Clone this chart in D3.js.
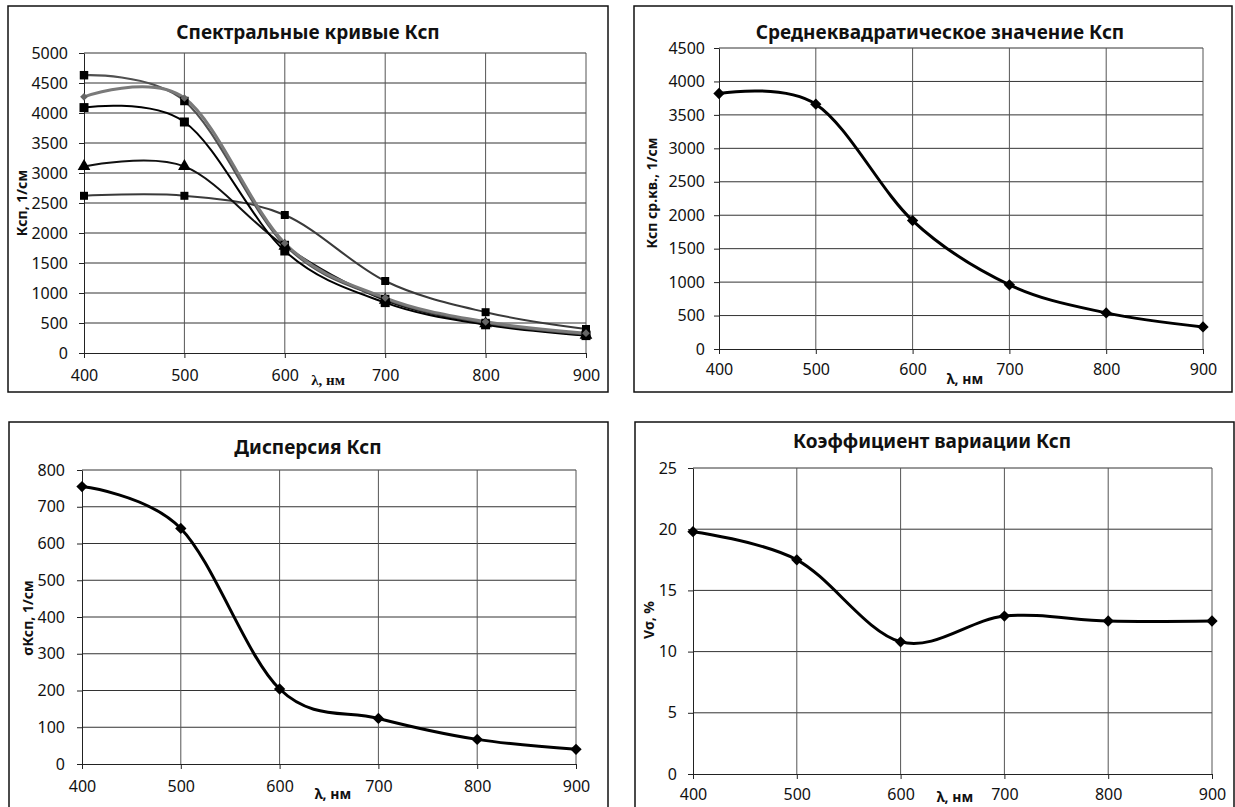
<!DOCTYPE html>
<html>
<head>
<meta charset="utf-8">
<script src="https://cdn.jsdelivr.net/npm/d3@7"></script>
<style>
  body { margin: 0; background: #fff; }
  text { font-family: "Noto Sans", "Open Sans", sans-serif; fill: #111; }
</style>
</head>
<body>
<svg id="chart" width="1235" height="807"></svg>
<script>
// values
var wavelengths = [400, 500, 600, 700, 800, 900];

var kspDiamond     = [4270, 4250, 1830, 920, 520, 330];
var kspSquareTop   = [4630, 4200, 1800, 900, 500, 310];
var kspSquareBlack = [4090, 3850, 1700, 840, 470, 290];
var kspTriangle    = [3110, 3110, 1780, 880, 490, 300];
var kspSquareLow   = [2620, 2620, 2300, 1200, 680, 400];

var kspRms  = [3820, 3660, 1920, 960, 540, 330];
var kspDisp = [755, 641, 204, 124, 67, 40];
var kspVar  = [19.8, 17.5, 10.8, 12.9, 12.5, 12.5];

var ticksKsp  = d3.range(0, 5001, 500);
var ticksRms  = d3.range(0, 4501, 500);
var ticksDisp = d3.range(0, 801, 100);
var ticksVar  = d3.range(0, 26, 5);

var svg = d3.select("#chart");

var line = function(x, y) {
  return d3.line()
    .x(function(d, i) { return x(wavelengths[i]); })
    .y(function(d) { return y(d); })
    .curve(d3.curveCardinal.tension(0));
};

function drawPanel(p) {
  var g = svg.append("g");

  g.append("rect")
    .attr("x", p.box[0]).attr("y", p.box[1])
    .attr("width", p.box[2]).attr("height", p.box[3])
    .attr("fill", "#fff").attr("stroke", "#111").attr("stroke-width", 1.5);

  var x = d3.scaleLinear().domain([400, 900]).range([p.left, p.right]);
  var y = d3.scaleLinear().domain([0, p.yTicks[p.yTicks.length - 1]]).range([p.bottom, p.top]);

  // grid
  g.append("g").selectAll("line")
    .data(p.yTicks.slice(1))
    .enter().append("line")
      .attr("x1", x(400)).attr("x2", x(900))
      .attr("y1", function(d) { return y(d); })
      .attr("y2", function(d) { return y(d); })
      .attr("stroke", "#333").attr("stroke-width", 1);

  g.append("g").selectAll("line")
    .data(wavelengths.slice(1))
    .enter().append("line")
      .attr("x1", function(d) { return x(d); })
      .attr("x2", function(d) { return x(d); })
      .attr("y1", y.range()[0]).attr("y2", y.range()[1])
      .attr("stroke", "#555").attr("stroke-width", 1);

  var ya = g.append("g")
      .attr("transform", "translate(" + x(400) + ",0)")
      .call(d3.axisLeft(y).tickValues(p.yTicks).tickSize(5).tickSizeOuter(0)
        .tickPadding(p.yPad).tickFormat(d3.format("d")));
  var xa = g.append("g")
      .attr("transform", "translate(0," + y(0) + ")")
      .call(d3.axisBottom(x).tickValues(wavelengths).tickSize(5).tickSizeOuter(0)
        .tickPadding(p.xPad).tickFormat(d3.format("d")));

  [ya, xa].forEach(function(a) {
    a.select(".domain").attr("stroke", "#222");
    a.selectAll(".tick line").attr("stroke", "#222");
    a.selectAll(".tick text")
      .attr("fill", "#222")
      .style("font-size", "16px")
      .style("font-family", "'Noto Sans', sans-serif");
  });

  g.append("text")
    .attr("x", p.title[0]).attr("y", p.title[1])
    .attr("text-anchor", "middle")
    .style("font-size", "19px").style("font-weight", "bold")
    .text(p.titleText);

  g.append("text")
    .attr("transform", "translate(" + p.yLabel[0] + "," + p.yLabel[1] + ") rotate(-90)")
    .attr("text-anchor", "middle")
    .style("font-size", "14px").style("font-weight", "bold")
    .text(p.yLabelText);

  g.append("text")
    .attr("x", p.xLabel[0]).attr("y", p.xLabel[1])
    .attr("text-anchor", "middle")
    .style("font-size", p.xLabelSerif ? "15px" : "14px")
    .style("font-weight", "bold")
    .style("font-family", p.xLabelSerif ? "'Liberation Serif', serif" : "'Noto Sans', sans-serif")
    .text("λ, нм");

  p.series.forEach(function(s) {
    g.append("path")
      .datum(s.values)
      .attr("d", line(x, y))
      .attr("fill", "none")
      .attr("stroke", s.color)
      .attr("stroke-width", s.width);
  });

  p.series.forEach(function(s) {
    g.append("g").selectAll("path")
      .data(s.values)
      .enter().append("path")
        .attr("transform", function(d, i) {
          return "translate(" + x(wavelengths[i]) + "," + y(d) + ")" + (s.diamond ? " rotate(45)" : "");
        })
        .attr("d", d3.symbol().type(s.symbol).size(s.size))
        .attr("fill", s.markColor || "#000");
  });
}

drawPanel({
  box: [8, 6, 600, 386],
  left: 84, right: 586, bottom: 353, top: 53,
  yTicks: ticksKsp, yPad: 11, xPad: 12,
  title: [308, 39], titleText: "Спектральные кривые Ксп",
  yLabel: [27, 203], yLabelText: "Ксп, 1/см",
  xLabel: [328, 385], xLabelSerif: true,
  series: [
    { values: kspSquareLow, color: "#3a3a3a", width: 2, symbol: d3.symbolSquare, size: 64 },
    { values: kspTriangle, color: "#111", width: 2, symbol: d3.symbolTriangle, size: 70 },
    { values: kspSquareBlack, color: "#000", width: 2, symbol: d3.symbolSquare, size: 81 },
    { values: kspSquareTop, color: "#505050", width: 2.2, symbol: d3.symbolSquare, size: 72 },
    { values: kspDiamond, color: "#7a7a7a", width: 3, symbol: d3.symbolSquare, diamond: true, size: 30, markColor: "#666" }
  ]
});

drawPanel({
  box: [634, 6, 598, 386],
  left: 719, right: 1203, bottom: 349, top: 48,
  yTicks: ticksRms, yPad: 9, xPad: 10,
  title: [940, 39], titleText: "Среднеквадратическое значение Ксп",
  yLabel: [657, 193], yLabelText: "Ксп ср.кв., 1/см",
  xLabel: [965, 384],
  series: [
    { values: kspRms, color: "#000", width: 3, symbol: d3.symbolSquare, diamond: true, size: 64 }
  ]
});

drawPanel({
  box: [9, 422, 599, 420],
  left: 82, right: 576, bottom: 764, top: 470,
  yTicks: ticksDisp, yPad: 12, xPad: 12,
  title: [308, 454], titleText: "Дисперсия Ксп",
  yLabel: [33, 618], yLabelText: "σКсп, 1/см",
  xLabel: [333, 799],
  series: [
    { values: kspDisp, color: "#000", width: 3, symbol: d3.symbolSquare, diamond: true, size: 64 }
  ]
});

drawPanel({
  box: [635, 422, 599, 420],
  left: 693, right: 1212, bottom: 774, top: 468,
  yTicks: ticksVar, yPad: 11, xPad: 10,
  title: [932, 448], titleText: "Коэффициент вариации  Ксп",
  yLabel: [654, 620], yLabelText: "Vσ, %",
  xLabel: [955, 802],
  series: [
    { values: kspVar, color: "#000", width: 3, symbol: d3.symbolSquare, diamond: true, size: 64 }
  ]
});
</script>
</body>
</html>
